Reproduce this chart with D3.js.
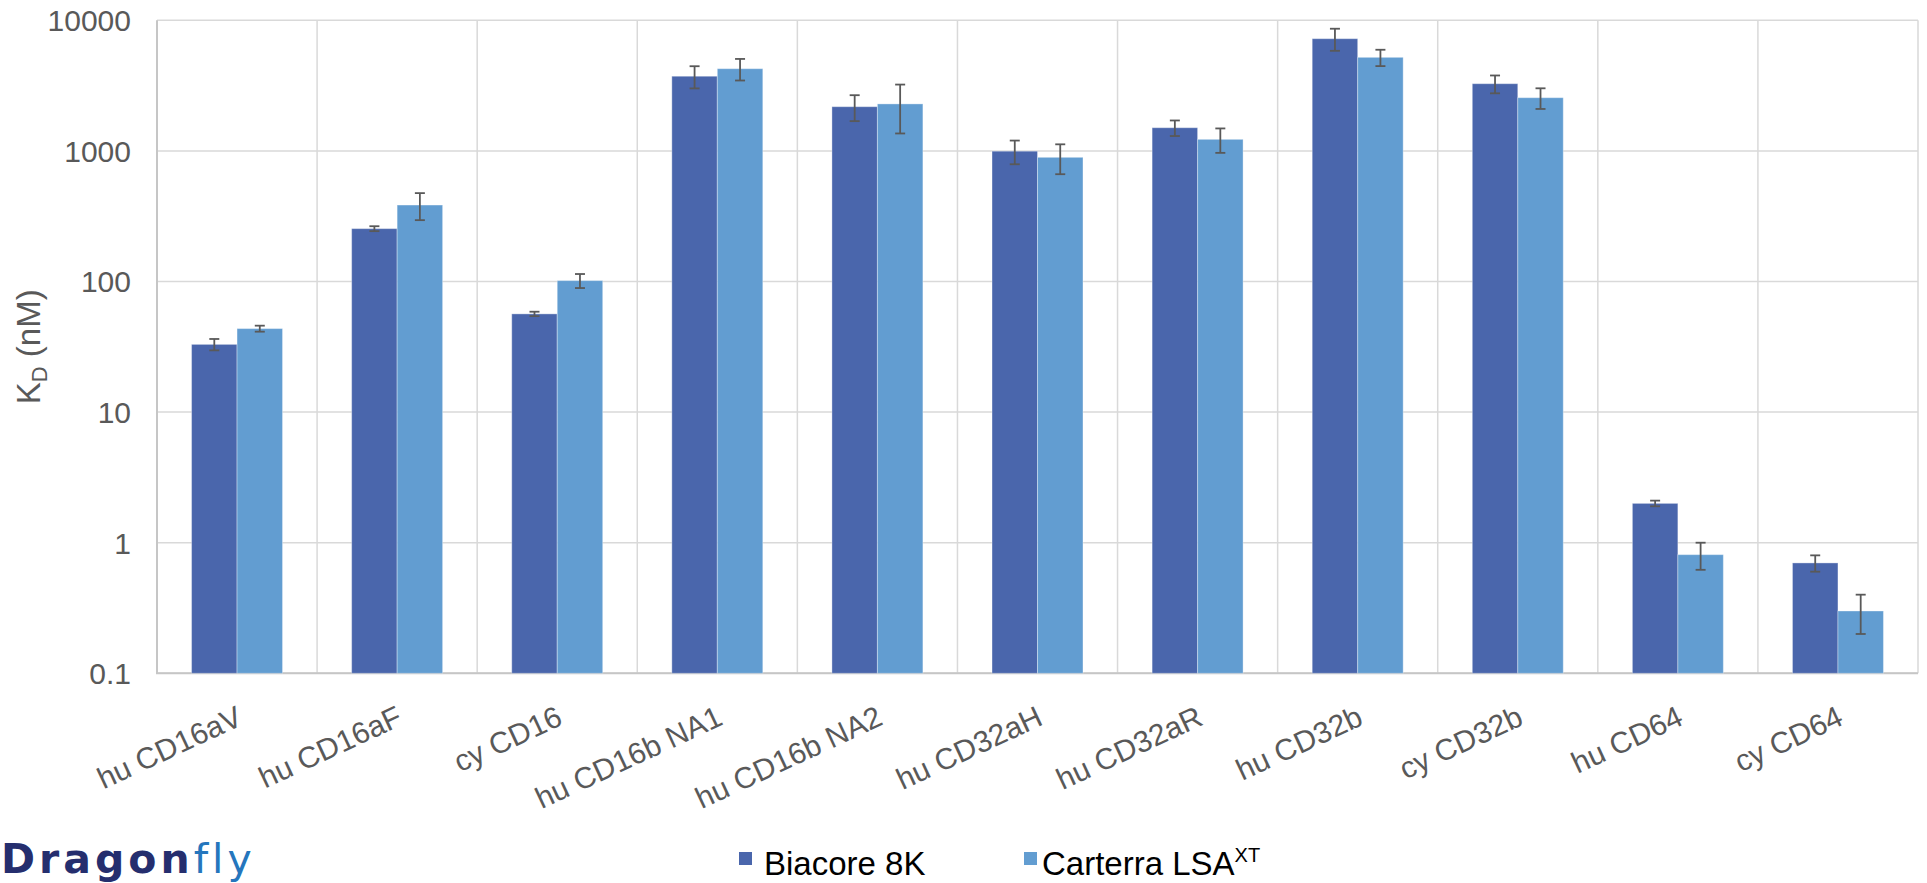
<!DOCTYPE html>
<html>
<head>
<meta charset="utf-8">
<script src="https://cdn.jsdelivr.net/npm/d3@7"></script>
<style>
  html, body { margin: 0; padding: 0; background: #ffffff; }
  svg { display: block; }
</style>
</head>
<body>
<svg id="chart" width="1927" height="883"></svg>
<script>
// KD values (nM) measured on two platforms, with standard deviations
const categories = ["hu CD16aV", "hu CD16aF", "cy CD16", "hu CD16b NA1", "hu CD16b NA2",
  "hu CD32aH", "hu CD32aR", "hu CD32b", "cy CD32b", "hu CD64", "cy CD64"];
const seriesNames = ["Biacore 8K", "Carterra LSA"];
const biacore = [33, 254, 56.5, 3730, 2180, 995, 1505, 7230, 3270, 2.0, 0.70];
const biacoreErr = [3.3, 11, 2.2, 720, 490, 205, 205, 1390, 510, 0.1, 0.1];
const carterra = [43.6, 385, 101.6, 4260, 2290, 893, 1226, 5205, 2555, 0.81, 0.30];
const carterraErr = [2.3, 90, 12.5, 800, 930, 230, 260, 745, 460, 0.19, 0.10];
const yTicks = [0.1, 1, 10, 100, 1000, 10000];
const yTickLabels = ["0.1", "1", "10", "100", "1000", "10000"];
const colors = ["#4a66ac", "#629dd1"];

const FONT = "'Liberation Sans', Arial, sans-serif";
const svg = d3.select("#chart");

const plot = { left: 157, right: 1918, top: 20.3, bottom: 673.3 };

const x = d3.scaleBand().domain(categories).range([plot.left, plot.right]).padding(0);
const xs = d3.scaleBand().domain(seriesNames).range([0, x.bandwidth()])
  .paddingInner(0).paddingOuter(0.76);
const y = d3.scaleLog().domain([0.1, 10000]).range([plot.bottom, plot.top]);

// horizontal gridlines
svg.append("g").selectAll("line").data(yTicks).join("line")
  .attr("x1", plot.left).attr("x2", plot.right)
  .attr("y1", d => y(d)).attr("y2", d => y(d))
  .attr("stroke", "#d9d9d9").attr("stroke-width", 1.5);

// vertical gridlines between categories
const bounds = categories.map(c => x(c) + x.bandwidth());
svg.append("g").selectAll("line").data(bounds).join("line")
  .attr("x1", d => d).attr("x2", d => d)
  .attr("y1", plot.top).attr("y2", plot.bottom)
  .attr("stroke", "#d9d9d9").attr("stroke-width", 1.5);

// axis lines
svg.append("line").attr("x1", plot.left).attr("x2", plot.left)
  .attr("y1", plot.top).attr("y2", plot.bottom)
  .attr("stroke", "#c6c6c6").attr("stroke-width", 2);
svg.append("line").attr("x1", plot.left - 1).attr("x2", plot.right)
  .attr("y1", plot.bottom).attr("y2", plot.bottom)
  .attr("stroke", "#c6c6c6").attr("stroke-width", 2);

// bars and error bars
const series = [
  { name: seriesNames[0], values: biacore, errs: biacoreErr, color: colors[0] },
  { name: seriesNames[1], values: carterra, errs: carterraErr, color: colors[1] }
];
const rows = [];
series.forEach(s => categories.forEach((c, i) => rows.push({
  cat: c, name: s.name, v: s.values[i], e: s.errs[i], color: s.color
})));

svg.append("g").selectAll("rect").data(rows).join("rect")
  .attr("x", d => x(d.cat) + xs(d.name))
  .attr("width", xs.bandwidth())
  .attr("y", d => y(d.v))
  .attr("height", d => plot.bottom - y(d.v))
  .attr("fill", d => d.color)
  .attr("stroke", "rgba(255,255,255,0.35)")
  .attr("stroke-width", 1);

const eb = svg.append("g").attr("stroke", "#595959").attr("stroke-width", 1.8);
rows.forEach(d => {
  const cx = x(d.cat) + xs(d.name) + xs.bandwidth() / 2;
  const y1 = y(d.v + d.e), y2 = y(d.v - d.e);
  eb.append("line").attr("x1", cx).attr("x2", cx).attr("y1", y1).attr("y2", y2);
  eb.append("line").attr("x1", cx - 5).attr("x2", cx + 5).attr("y1", y1).attr("y2", y1);
  eb.append("line").attr("x1", cx - 5).attr("x2", cx + 5).attr("y1", y2).attr("y2", y2);
});

// y tick labels
svg.append("g").selectAll("text").data(yTicks).join("text")
  .attr("x", 131).attr("y", d => y(d))
  .attr("dy", "0.36em")
  .attr("text-anchor", "end")
  .attr("font-family", FONT).attr("font-size", 30).attr("fill", "#595959")
  .text((d, i) => yTickLabels[i]);

// y axis title
const yt = svg.append("text")
  .attr("transform", `translate(40,${(plot.top + plot.bottom) / 2}) rotate(-90)`)
  .attr("text-anchor", "middle")
  .attr("font-family", FONT).attr("font-size", 33).attr("fill", "#595959");
yt.append("tspan").text("K");
yt.append("tspan").attr("font-size", 22).attr("dy", 7).text("D");
yt.append("tspan").attr("dy", -7).text(" (nM)");

// category labels, rotated
svg.append("g").selectAll("text").data(categories).join("text")
  .attr("transform", d => `translate(${x(d) + x.bandwidth() / 2 + 7},724) rotate(-25)`)
  .attr("text-anchor", "end")
  .attr("font-family", FONT).attr("font-size", 30).attr("fill", "#595959")
  .text(d => d);

// legend
const legend = svg.append("g").attr("font-family", FONT).attr("font-size", 33).attr("fill", "#000");
legend.append("rect").attr("x", 739).attr("y", 852).attr("width", 13).attr("height", 13).attr("fill", colors[0]);
legend.append("text").attr("x", 764).attr("y", 875).text(seriesNames[0]);
legend.append("rect").attr("x", 1024).attr("y", 852).attr("width", 13).attr("height", 13).attr("fill", colors[1]);
const lt = legend.append("text").attr("x", 1042).attr("y", 875);
lt.append("tspan").text(seriesNames[1]);
lt.append("tspan").attr("font-size", 20).attr("dy", -13).text("XT");

// company wordmark
const logo = svg.append("text").attr("x", 1).attr("y", 873)
  .attr("font-family", "'DejaVu Sans', sans-serif").attr("font-size", 41).attr("letter-spacing", 4);
logo.append("tspan").attr("font-weight", 700).attr("fill", "#252e6e").text("Dragon");
logo.append("tspan").attr("font-weight", 400).attr("fill", "#2576bd").text("fly");
</script>
</body>
</html>
